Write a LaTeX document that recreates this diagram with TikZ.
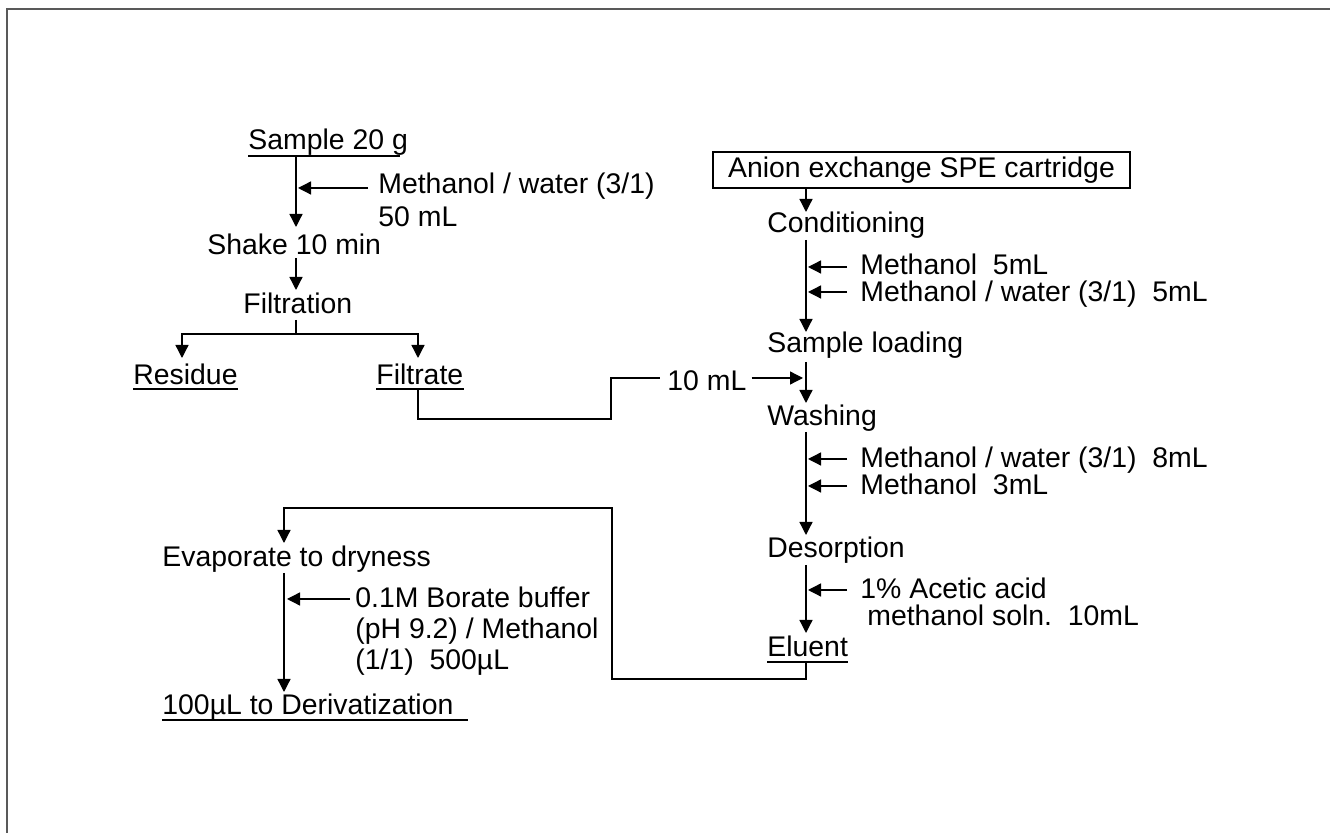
\documentclass[tikz,border=0pt]{standalone}
\usepackage{fontspec}
\setmainfont{Liberation Sans}
\usetikzlibrary{arrows.meta,calc}
\tikzset{
  txt/.style={inner sep=0pt, anchor=base west, font=\fontsize{14.2}{17}\selectfont},
  ln/.style={line width=0.65pt, black},
  arr/.style={ln, -{Triangle[length=6.5pt,width=6.5pt]}},
  frame/.style={line width=1pt, black!65},
  boxst/.style={draw, line width=0.65pt, inner sep=0pt, minimum width=208.5pt, minimum height=18pt, font=\fontsize{14.2}{17}\selectfont}
}
\begin{document}
\begin{tikzpicture}[x=0.5pt,y=-0.5pt]
\useasboundingbox (0,0) rectangle (1330,833);
\draw[frame] (7,833) -- (7,9) -- (1330,9);

\coordinate (cA) at (296,0);
\coordinate (cB) at (806,0);
\coordinate (cC) at (284,0);

% left column
\node[txt] (sample) at (248,150) {Sample 20 g};
\node[txt] (m1a) at (378,194) {Methanol / water (3/1)};
\node[txt] (m1b) at (378,227) {50 mL};
\node[txt] (shake) at (207,255) {Shake 10 min};
\node[txt] (filt) at (243,314) {Filtration};
\node[txt] (residue) at (133,385) {Residue};
\node[txt] (filtrate) at (376,385) {Filtrate};

\draw[ln] ($(sample.base west)+(0,6)$) -- ++(152,0);
\draw[ln] ($(residue.base west)+(0,4)$) -- ($(residue.base east)+(0,4)$);
\draw[ln] ($(filtrate.base west)+(0,4)$) -- ($(filtrate.base east)+(0,4)$);

\draw[arr] ($(sample.base -| cA)+(0,6)$) -- ($(shake.base -| cA)+(0,-28)$);
\draw[arr] ($(m1a.base west)+(-10,-6)$) -- ($(m1a.base -| cA)+(2,-6)$);
\draw[arr] ($(shake.base -| cA)+(0,3)$) -- ($(filt.base -| cA)+(0,-24)$);
\draw[ln] ($(filt.base -| cA)+(0,6)$) -- ++(0,14) coordinate (fork);
\draw[arr] (fork) -| ($(residue.base west)+(49,-27)$);
\draw[arr] (fork) -| ($(filtrate.base west)+(42,-27)$);

% right column
\node[boxst] (box) at (921.5,170) {Anion exchange SPE cartridge};
\node[txt] (cond) at (767,233) {Conditioning};
\node[txt] (r1) at (860,275) {Methanol~~5mL};
\node[txt] (r2) at (860,302) {Methanol / water (3/1)~~5mL};
\node[txt] (load) at (767,353) {Sample loading};
\node[txt] (ten) at (667,391) {10 mL};
\node[txt] (wash) at (767,426) {Washing};
\node[txt] (r3) at (860,468) {Methanol / water (3/1)~~8mL};
\node[txt] (r4) at (860,495) {Methanol~~3mL};
\node[txt] (desorp) at (767,558) {Desorption};
\node[txt] (r5a) at (860,599) {1\% Acetic acid};
\node[txt] (r5b) at (867,626) {methanol soln.~~10mL};
\node[txt] (eluent) at (767,657) {Eluent};
\draw[ln] ($(eluent.base west)+(0,5)$) -- ($(eluent.base east)+(0,5)$);

\draw[arr] (box.south -| cB) -- ($(cond.base -| cB)+(0,-21)$);
\draw[arr] ($(cond.base -| cB)+(0,7)$) -- ($(load.base -| cB)+(0,-21)$);
\draw[arr] ($(r1.base west)+(-13,-8)$) -- ($(r1.base west -| cB)+(2,-8)$);
\draw[arr] ($(r2.base west)+(-13,-10)$) -- ($(r2.base west -| cB)+(2,-10)$);
\draw[arr] ($(load.base -| cB)+(0,9)$) -- ($(wash.base -| cB)+(0,-23)$);
\draw[ln] ($(filtrate.base west)+(42,4)$) |- (611,419) |- ($(ten.base west)+(-7,-13)$);
\draw[arr] ($(ten.base east)+(5,-13)$) -- ($(ten.base east -| cB)+(-3,-13)$);
\draw[arr] ($(wash.base -| cB)+(0,6)$) -- ($(desorp.base -| cB)+(0,-23)$);
\draw[arr] ($(r3.base west)+(-13,-9)$) -- ($(r3.base west -| cB)+(2,-9)$);
\draw[arr] ($(r4.base west)+(-13,-9)$) -- ($(r4.base west -| cB)+(2,-9)$);
\draw[arr] ($(desorp.base -| cB)+(0,7)$) -- ($(eluent.base -| cB)+(0,-24)$);
\draw[arr] ($(r5a.base west)+(-13,-9)$) -- ($(r5a.base west -| cB)+(2,-9)$);

% bottom left
\node[txt] (evap) at (162,567) {Evaporate to dryness};
\node[txt] (b1) at (355,608) {0.1M Borate buffer};
\node[txt] (b2) at (355,639) {(pH 9.2) / Methanol};
\node[txt] (b3) at (355,670) {(1/1)~~500µL};
\node[txt] (deriv) at (162,715) {100µL to Derivatization};
\draw[ln] ($(deriv.base west)+(0,5)$) -- ++(306,0);

\draw[arr] ($(eluent.base -| cB)+(0,5)$) |- (612,679) |- ($(evap.base -| cC)+(0,-59)$) -- ($(evap.base -| cC)+(0,-24)$);
\draw[arr] ($(evap.base -| cC)+(0,6)$) -- ($(deriv.base -| cC)+(0,-23)$);
\draw[arr] ($(b1.base west)+(-5,-9)$) -- ($(b1.base west -| cC)+(3,-9)$);
\end{tikzpicture}
\end{document}
